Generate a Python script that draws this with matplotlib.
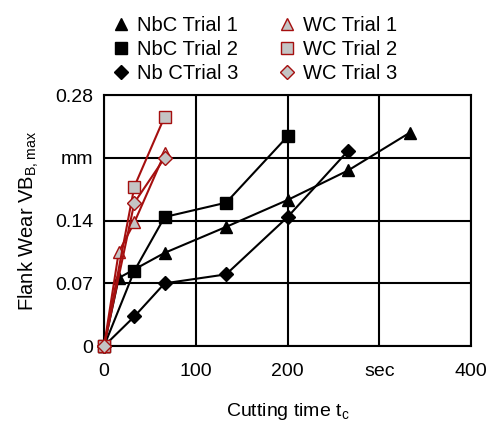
import matplotlib
matplotlib.use("Agg")
import matplotlib.pyplot as plt

plt.rcParams['font.family'] = ['Liberation Sans', 'DejaVu Sans']

# cutting time (sec) and flank wear (mm)
t_nbc1 = [0, 16, 66, 133, 200, 266, 333]
vb_nbc1 = [0, 0.076, 0.104, 0.133, 0.163, 0.196, 0.238]
t_nbc2 = [0, 33, 66, 133, 200]
vb_nbc2 = [0, 0.084, 0.144, 0.160, 0.234]
t_nbc3 = [0, 33, 66, 133, 200, 266]
vb_nbc3 = [0, 0.033, 0.070, 0.080, 0.144, 0.218]
t_wc1 = [0, 16, 33, 66]
vb_wc1 = [0, 0.105, 0.138, 0.215]
t_wc2 = [0, 33, 66]
vb_wc2 = [0, 0.178, 0.256]
t_wc3 = [0, 33, 66]
vb_wc3 = [0, 0.160, 0.210]

xticks = [0, 100, 200, 300, 400]
xlabels = ["0", "100", "200", "sec", "400"]
yticks = [0, 0.07, 0.14, 0.21, 0.28]
ylabels = ["0", "0.07", "0.14", "mm", "0.28"]

red = "#a50f0f"
grey = "#c4c4c4"

fig = plt.figure(figsize=(4.98, 4.21), dpi=100)
ax = fig.add_axes([0.209, 0.178, 0.737, 0.596])

ax.plot(t_nbc1, vb_nbc1, color="black", marker="^", ms=8, lw=1.5, label="NbC Trial 1")
ax.plot(t_nbc2, vb_nbc2, color="black", marker="s", ms=8, lw=1.5, label="NbC Trial 2")
ax.plot(t_nbc3, vb_nbc3, color="black", marker="D", ms=7, lw=1.5, label="Nb CTrial 3")
ax.plot(t_wc1, vb_wc1, color=red, marker="^", ms=8, lw=1.5, mfc=grey, mec=red, label="WC Trial 1")
ax.plot(t_wc2, vb_wc2, color=red, marker="s", ms=8, lw=1.5, mfc=grey, mec=red, label="WC Trial 2")
ax.plot(t_wc3, vb_wc3, color=red, marker="D", ms=7, lw=1.5, mfc=grey, mec=red, label="WC Trial 3")

ax.set_xlim(0, 400)
ax.set_ylim(0, 0.28)
ax.set_xticks(xticks)
ax.set_xticklabels(xlabels)
ax.set_yticks(yticks)
ax.set_yticklabels(ylabels)
ax.tick_params(length=0, labelsize=14)
ax.tick_params(axis="x", pad=12)
ax.tick_params(axis="y", pad=8)
ax.grid(True, color="black", lw=1.5)
for s in ax.spines.values():
    s.set_linewidth(1.5)
for line in ax.lines:
    line.set_clip_on(False)
    line.set_zorder(3)

ax.set_xlabel("Cutting time t$_\\mathregular{c}$", fontsize=14, labelpad=15)
ax.set_ylabel("Flank Wear VB$_\\mathregular{B,max}$", fontsize=14.5, labelpad=10)

leg = fig.legend(loc="upper center", bbox_to_anchor=(0.51, 1.005), ncol=2, frameon=False,
                 fontsize=14.5, handlelength=1.0, handletextpad=0.3, columnspacing=1.9,
                 labelspacing=0.25)
for h in leg.legend_handles:
    h.set_linestyle("")

plt.savefig("out.png", dpi=100)
plt.close()
